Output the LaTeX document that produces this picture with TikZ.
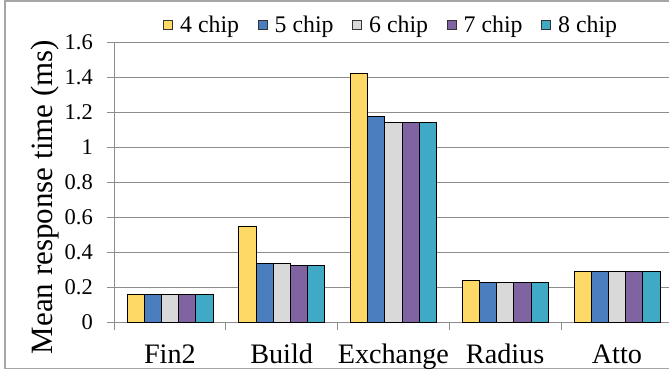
\documentclass[tikz,border=0pt]{standalone}
\usepackage{fontspec}
\setmainfont{Liberation Serif}
\definecolor{cfour}{HTML}{FFD966}
\definecolor{cfive}{HTML}{4A7EBE}
\definecolor{csix}{HTML}{D9D9D9}
\definecolor{cseven}{HTML}{8064A2}
\definecolor{ceight}{HTML}{3FA9C6}
\definecolor{gridgray}{HTML}{8C8C8C}
\definecolor{framegray}{HTML}{A6A6A6}
\tikzset{
  gridline/.style={draw=gridgray, line width=1pt},
  axisline/.style={draw=gridgray, line width=1pt},
  bar/.style={draw=black, line width=0.9pt},
  ticklabel/.style={anchor=east, inner sep=0pt, font=\fontsize{22.5}{25}\selectfont},
  catlabel/.style={anchor=base, inner sep=0pt, font=\fontsize{28.2}{31}\selectfont},
  legendbox/.style={draw=black!80, line width=0.8pt, minimum size=9pt, inner sep=0pt},
  legendtext/.style={anchor=base west, inner sep=0pt, font=\fontsize{23.8}{26}\selectfont},
}
\begin{document}
\begin{tikzpicture}[x=1pt, y=-1pt]
\useasboundingbox (0,0) rectangle (669,373);
% outer chart frame (its right side lies outside the page)
\draw[framegray, line width=1.5pt] (669,1) -- (5,1) -- (5,368.5) -- (669,368.5);

% horizontal gridlines and value labels
\foreach \k/\lab in {0/0,1/0.2,2/0.4,3/0.6,4/0.8,5/1,6/1.2,7/1.4,8/1.6} {
  \pgfmathsetmacro{\yy}{322-35*\k}
  \draw[gridline] (107,\yy) -- (669,\yy);
  \node[ticklabel] (tick\k) at (93,\yy) {\lab};
}
% vertical axis
\draw[axisline] (114,42) -- (114,322);
% category separators below the axis
\foreach \i in {0,...,5} {
  \draw[axisline] ({114+111.75*\i},322) -- ({114+111.75*\i},330);
}

% bars: one group per workload, one bar per chip count
\foreach \i/\name/\va/\vb/\vc/\vd/\ve in {
    0/Fin2/0.16/0.16/0.16/0.16/0.16,
    1/Build/0.545/0.337/0.337/0.322/0.322,
    2/Exchange/1.42/1.173/1.143/1.143/1.143,
    3/Radius/0.238/0.225/0.225/0.225/0.225,
    4/Atto/0.291/0.291/0.291/0.291/0.291} {
  \pgfmathsetmacro{\x}{114+111.75*\i+13}
  \foreach \j/\v/\c in {0/\va/cfour,1/\vb/cfive,2/\vc/csix,3/\vd/cseven,4/\ve/ceight} {
    \draw[bar, fill=\c] ({\x+17.2*\j},322) rectangle ({\x+17.2*(\j+1)},{322-175*\v});
  }
  \node[catlabel] (cat\i) at ({114+111.75*(\i+0.5)},363.3) {\name};
}

% axis title
\node[rotate=90, inner sep=0pt, font=\fontsize{31}{34}\selectfont] (ytitle) at (45,197) {Mean response time (ms)};

% legend
\foreach \n/\c/\xx in {4/cfour/163,5/cfive/257.5,6/csix/352,7/cseven/446.5,8/ceight/541} {
  \node[legendbox, fill=\c, anchor=north west] (key\n) at (\xx,20) {};
  \node[legendtext] (lab\n) at (\xx+17,32) {\n\ chip};
}
\end{tikzpicture}
\end{document}
